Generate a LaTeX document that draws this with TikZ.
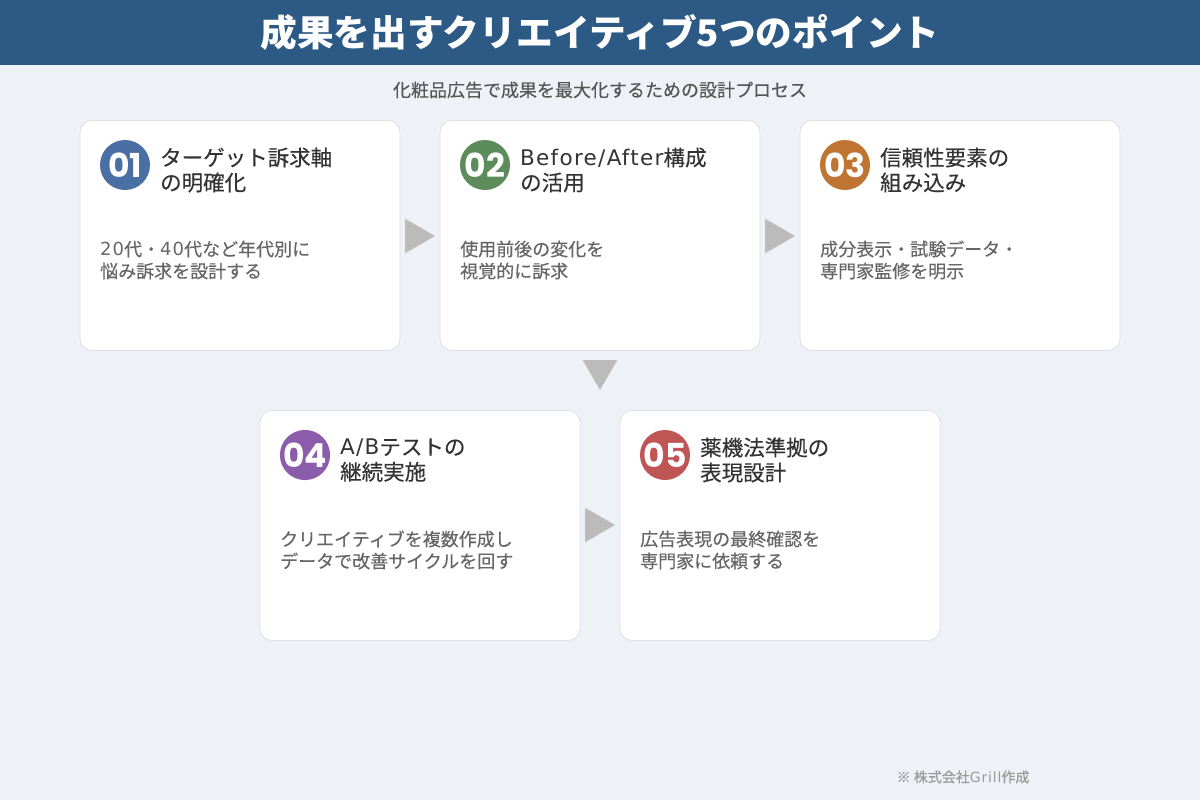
\documentclass[tikz,border=0pt]{standalone}
\usepackage{fontspec}
\setmainfont{Noto Sans CJK JP}
\newfontfamily\medfont{Noto Sans CJK JP}[FakeBold=0.35]
\newfontfamily\latfont{DejaVu Sans}[LetterSpace=6]
\newfontfamily\numfont{Poppins}
\newcommand{\latn}[1]{{\latfont #1}}
\usetikzlibrary{shapes.geometric}

\definecolor{bgcol}{HTML}{EEF1F6}
\definecolor{barcol}{HTML}{2C5A85}
\definecolor{edgecol}{HTML}{DCDFE4}
\definecolor{headcol}{HTML}{333333}
\definecolor{desccol}{HTML}{666666}
\definecolor{subcol}{HTML}{555555}
\definecolor{arrcol}{HTML}{BBBBBB}
\definecolor{footcol}{HTML}{999999}
\definecolor{onecol}{HTML}{4A6FA5}
\definecolor{twocol}{HTML}{5B8C5A}
\definecolor{threecol}{HTML}{C07432}
\definecolor{fourcol}{HTML}{8B5CAB}
\definecolor{fivecol}{HTML}{C05555}

\tikzset{
  card/.style={draw=edgecol, line width=0.8pt, fill=white, rounded corners=12pt,
    minimum width=320pt, minimum height=230pt},
  badge/.style={circle, fill=#1, minimum size=50pt, inner sep=0pt, text=white,
    font=\numfont\bfseries\fontsize{33}{33}\selectfont},
  head/.style={anchor=west, align=left, inner sep=0pt, text=headcol,
    font=\medfont\fontsize{21.5}{25}\selectfont},
  desc/.style={anchor=west, align=left, inner sep=0pt, text=desccol,
    font=\medfont\fontsize{18}{22}\selectfont},
  tri/.style={isosceles triangle, isosceles triangle apex angle=60, fill=arrcol,
    inner sep=0pt, minimum height=30pt, minimum width=21pt, shape border rotate=#1}
}

\begin{document}
\begin{tikzpicture}[x=1pt, y=-1pt]
	\useasboundingbox (0,0) rectangle (1200,800);
	\fill[bgcol] (0,0) rectangle (1200,800);
	\fill[barcol] (0,0) rectangle (1200,65);
	
	\node[text=white, font=\bfseries\fontsize{36.7}{36.7}\selectfont] (title) at (600,32) {成果を出すクリエイティブ5つのポイント};
	\node[text=subcol, font=\medfont\fontsize{18}{18}\selectfont] (sub) at (600,90) {化粧品広告で成果を最大化するための設計プロセス};
	
	\node[card] (c1) at (240,235.5) {};
	\node[card] (c2) at (600,235.5) {};
	\node[card] (c3) at (960,235.5) {};
	\node[card] (c4) at (420,525.5) {};
	\node[card] (c5) at (780,525.5) {};
	
	\node[badge=onecol] (n1) at (125,165) {01};
	\node[badge=twocol] (n2) at (485,165) {02};
	\node[badge=threecol] (n3) at (845,165) {03};
	\node[badge=fourcol] (n4) at (305,455) {04};
	\node[badge=fivecol] (n5) at (665,455) {05};
	
	\node[head] (h1) at (160,170) {ターゲット訴求軸\\の明確化};
	\node[head] (h2) at (520,170) {\latn{Before/After}構成\\の活用};
	\node[head] (h3) at (880,170) {信頼性要素の\\組み込み};
	\node[head] (h4) at (340,460) {\latn{A/B}テストの\\継続実施};
	\node[head] (h5) at (700,460) {薬機法準拠の\\表現設計};
	
	\node[desc] (d1) at (100,260) {\latn{20}代・\latn{40}代など年代別に\\悩み訴求を設計する};
	\node[desc] (d2) at (460,260) {使用前後の変化を\\視覚的に訴求};
	\node[desc] (d3) at (820,260) {成分表示・試験データ・\\専門家監修を明示};
	\node[desc] (d4) at (280,550) {クリエイティブを複数作成し\\データで改善サイクルを回す};
	\node[desc] (d5) at (640,550) {広告表現の最終確認を\\専門家に依頼する};
	
	\node[tri=0] (a12) at (415,236) {};
	\node[tri=0] (a23) at (775,236) {};
	\node[tri=-90] (a34) at (600,370) {};
	\node[tri=0] (a45) at (595,525) {};
	
	\node[text=footcol, anchor=east, font=\medfont\fontsize{14}{14}\selectfont] (foot) at (1033,777) {※ 株式会社\latn{Grill}作成};
\end{tikzpicture}
\end{document}
